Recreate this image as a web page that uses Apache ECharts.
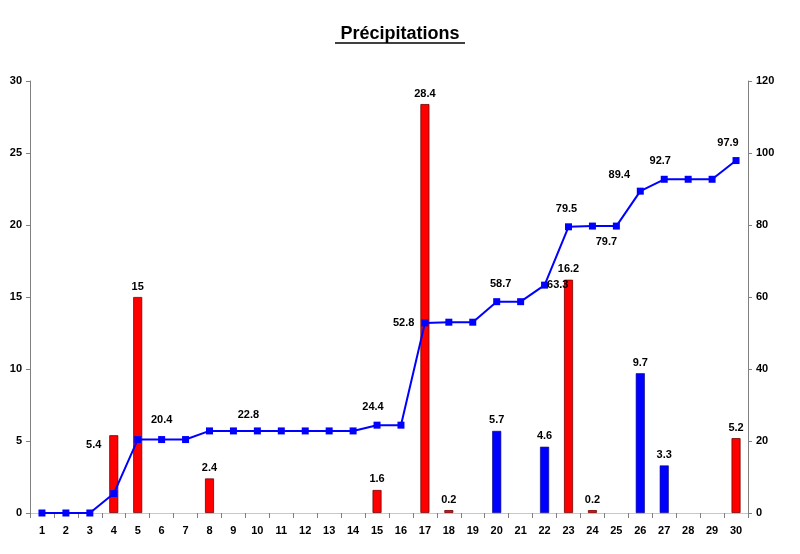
<!DOCTYPE html>
<html><head><meta charset="utf-8">
<script src="https://cdn.jsdelivr.net/npm/echarts@6/dist/echarts.min.js"></script>
<style>html,body{margin:0;padding:0;background:#fff}#c{width:800px;height:554px}</style>
</head><body><div id="c"></div>
<script>
var days = ['1','2','3','4','5','6','7','8','9','10','11','12','13','14','15','16','17','18','19','20','21','22','23','24','25','26','27','28','29','30'];
var redRain = [null,null,null,5.4,15,null,null,2.4,null,null,null,null,null,null,1.6,null,28.4,0.2,null,null,null,null,16.2,0.2,null,null,null,null,null,5.2];
var blueRain = [null,null,null,null,null,null,null,null,null,null,null,null,null,null,null,null,null,null,null,5.7,null,4.6,null,null,null,9.7,3.3,null,null,null];
var cumul = [0,0,0,5.4,20.4,20.4,20.4,22.8,22.8,22.8,22.8,22.8,22.8,22.8,24.4,24.4,52.8,53.0,53.0,58.7,58.7,63.3,79.5,79.7,79.7,89.4,92.7,92.7,92.7,97.9];

// which cumulative points carry a label, and where (style only)
var lineLabelCfg = {
  5: {position:'top', offset:[0,-6]},
  9: {position:'top', offset:[-9,-2]},
  14: {position:'top', offset:[-4,-4]},
  16: {position:'left', offset:[-2,0]},
  19: {position:'top', offset:[4,-4]},
  21: {position:'right', offset:[-6,0]},
  22: {position:'top', offset:[-2,-4]},
  23: {position:'bottom', offset:[14,2]},
  25: {position:'top', offset:[-21,-2]},
  26: {position:'top', offset:[-4,-4]},
  29: {position:'top', offset:[-8,-4]}
};
var lblFont = {fontFamily:'Liberation Sans', fontWeight:'bold', fontSize:11, color:'#000'};

var lineData = cumul.map(function(v,i){
  var c = lineLabelCfg[i];
  if (!c) return {value:v};
  return {value:v, label:Object.assign({show:true, formatter:function(p){return p.value.toFixed(1);}}, lblFont, c)};
});
var redData = redRain.map(function(v,i){
  if (i === 3) return {value:v, label:{position:'top', offset:[-20,20]}};
  return v;
});

var chart = echarts.init(document.getElementById('c'));
chart.setOption({
  animation:false,
  backgroundColor:'#fff',
  title:{text:'Précipitations', left:'center', top:20, textStyle:{fontFamily:'Liberation Sans', fontWeight:'bold', fontSize:18, color:'#000'}},
  graphic:[{type:'line', shape:{x1:335,y1:43,x2:465,y2:43}, style:{stroke:'#000', lineWidth:1.5}}],
  grid:{left:30, right:52, top:81, bottom:41},
  xAxis:[{
    type:'category', data:days, boundaryGap:true,
    axisLine:{lineStyle:{color:'#808080'}},
    axisTick:{show:true, length:5, lineStyle:{color:'#808080'}},
    axisLabel:Object.assign({margin:12}, lblFont)
  },{
    type:'category', data:days, position:'top',
    axisLine:{lineStyle:{color:'#c8c8c8'}}, axisTick:{show:false}, axisLabel:{show:false}
  }],
  yAxis:[{
    type:'value', min:0, max:30, interval:5,
    axisLine:{show:true, lineStyle:{color:'#808080'}},
    axisTick:{show:true, length:4, lineStyle:{color:'#808080'}},
    splitLine:{show:false},
    axisLabel:Object.assign({margin:8}, lblFont)
  },{
    type:'value', min:0, max:120, interval:20, position:'right',
    axisLine:{show:true, lineStyle:{color:'#808080'}},
    axisTick:{show:true, length:4, lineStyle:{color:'#808080'}},
    splitLine:{show:false},
    axisLabel:Object.assign({margin:8}, lblFont)
  }],
  series:[{
    type:'bar', data:redData, barWidth:9, barGap:'-100%',
    itemStyle:{color:'#FF0000', borderColor:'#700000', borderWidth:0.8},
    label:Object.assign({show:true, position:'top', distance:5}, lblFont)
  },{
    type:'bar', data:blueRain, barWidth:9,
    itemStyle:{color:'#0000FF', borderColor:'#000070', borderWidth:0.6},
    label:Object.assign({show:true, position:'top', distance:5}, lblFont)
  },{
    type:'line', yAxisIndex:1, data:lineData,
    symbol:'rect', symbolSize:7, showAllSymbol:true,
    lineStyle:{color:'#0000FF', width:2},
    itemStyle:{color:'#0000FF'},
    label:{show:false}, z:5
  }]
});
</script>
</body></html>
